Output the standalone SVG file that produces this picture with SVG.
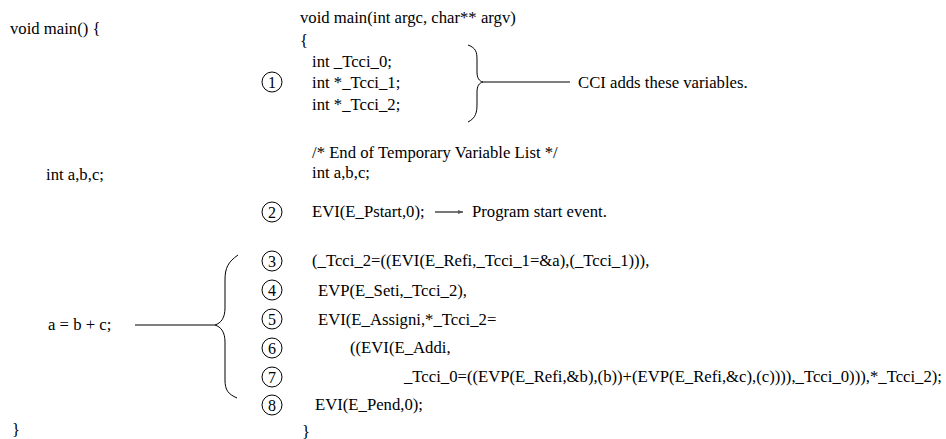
<svg xmlns="http://www.w3.org/2000/svg" width="946" height="439" viewBox="0 0 946 439" font-family="'Liberation Serif', 'Times New Roman', 'DejaVu Serif', serif">
<style>
text{font-size:16.7px;fill:#000}
.c{fill:none;stroke:#000;stroke-width:1}
.n{text-anchor:middle;font-size:16px}
.ln{stroke:#555;stroke-width:1.6;fill:none}
.br{stroke:#000;stroke-width:1;fill:none}
</style>
<defs>
<marker id="ah" markerWidth="6" markerHeight="6" refX="5" refY="3" orient="auto" markerUnits="userSpaceOnUse">
<path d="M0,1 L5,3 L0,5 z" fill="#555"/>
</marker>
</defs>
<g id="original" font-family="'Liberation Serif', 'Times New Roman', serif">
<text x="10" y="34">void main() {</text>
<text x="46" y="180">int a,b,c;</text>
<text x="48" y="330">a = b + c;</text>
<text x="12" y="435">}</text>
</g>
<g id="instrumented" font-family="'Liberation Serif', 'Times New Roman', serif">
<text x="300" y="23">void main(int argc, char** argv)</text>
<text x="300" y="46">{</text>
<text x="312" y="67">int _Tcci_0;</text>
<text x="312" y="88">int *_Tcci_1;</text>
<text x="312" y="110">int *_Tcci_2;</text>
<text x="312" y="158">/* End of Temporary Variable List */</text>
<text x="312" y="178">int a,b,c;</text>
<text x="312" y="217">EVI(E_Pstart,0);</text>
<text x="312" y="266">(_Tcci_2=((EVI(E_Refi,_Tcci_1=&amp;a),(_Tcci_1))),</text>
<text x="318" y="296">EVP(E_Seti,_Tcci_2),</text>
<text x="318" y="325">EVI(E_Assigni,*_Tcci_2=</text>
<text x="350" y="353">((EVI(E_Addi,</text>
<text x="404" y="382">_Tcci_0=((EVP(E_Refi,&amp;b),(b))+(EVP(E_Refi,&amp;c),(c)))),_Tcci_0))),*_Tcci_2);</text>
<text x="315" y="410">EVI(E_Pend,0);</text>
<text x="302" y="437">}</text>
</g>
<g id="markers" font-family="'Liberation Serif', 'Times New Roman', serif">
<g id="m1"><circle class="c" cx="272" cy="82" r="10"/><text class="n" x="272" y="88">1</text></g>
<g id="m2"><circle class="c" cx="272" cy="212" r="10"/><text class="n" x="272" y="218">2</text></g>
<g id="m3"><circle class="c" cx="272" cy="261" r="10"/><text class="n" x="272" y="267">3</text></g>
<g id="m4"><circle class="c" cx="272" cy="290" r="10"/><text class="n" x="272" y="296">4</text></g>
<g id="m5"><circle class="c" cx="272" cy="319" r="10"/><text class="n" x="272" y="325">5</text></g>
<g id="m6"><circle class="c" cx="272" cy="348" r="10"/><text class="n" x="272" y="354">6</text></g>
<g id="m7"><circle class="c" cx="272" cy="377" r="10"/><text class="n" x="272" y="383">7</text></g>
<g id="m8"><circle class="c" cx="272" cy="405" r="10"/><text class="n" x="272" y="411">8</text></g>
</g>
<g id="labels" font-family="'Liberation Serif', 'Times New Roman', serif">
<text x="578" y="88">CCI adds these variables.</text>
<text x="472" y="217">Program start event.</text>
</g>
<g id="connectors">
<path class="br" d="M468,45 C476,48 477,52 477,60 L477,72 C477,78 479,81 483,82 C479,83 477,86 477,92 L477,104 C477,112 476,118 468,122"/>
<line class="ln" x1="483" y1="82" x2="570" y2="82"/>
<line class="ln" x1="435" y1="212" x2="463" y2="212" marker-end="url(#ah)"/>
<path class="br" d="M238,255 C228,262 225,268 225,280 L225,308 C225,318 221,323 215,325 C221,327 225,332 225,342 L225,380 C225,390 228,394 237,398"/>
<line class="ln" x1="135" y1="325" x2="215" y2="325"/>
</g>
</svg>
